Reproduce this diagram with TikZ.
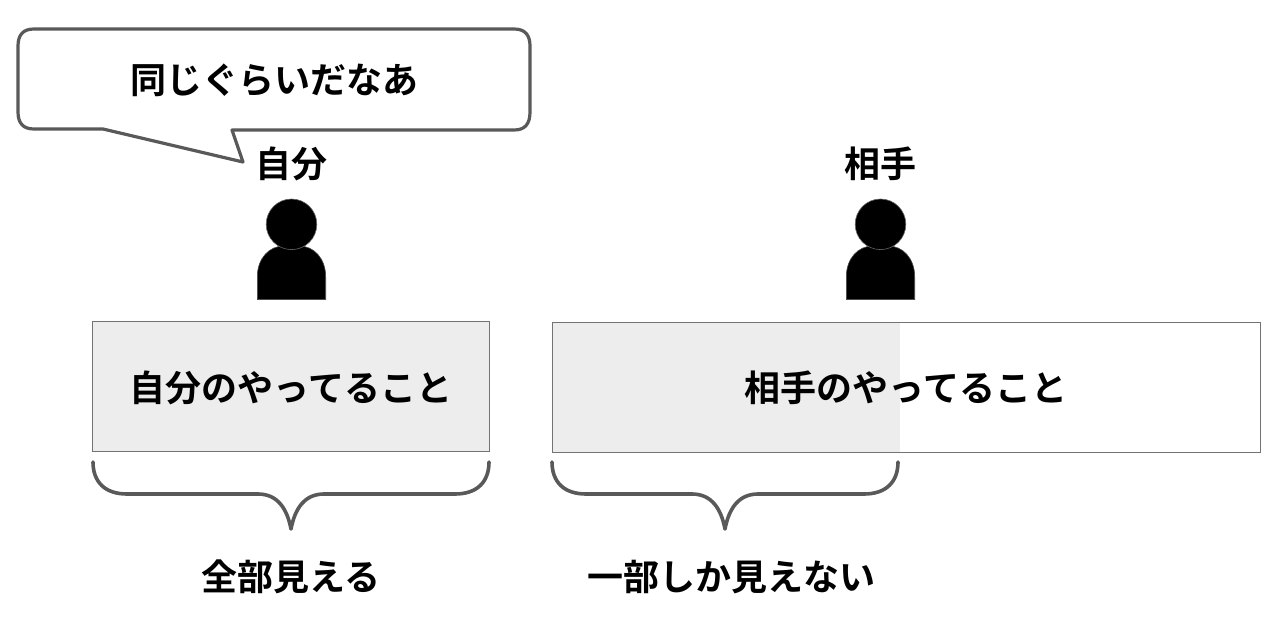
\documentclass[tikz,border=0pt]{standalone}
\usepackage{fontspec}
\setmainfont{Noto Sans CJK JP}[BoldFont={Noto Sans CJK JP Bold}]
\begin{document}
\begin{tikzpicture}[x=1pt,y=-1pt,
  lbl/.style={font=\fontsize{36}{40}\selectfont\bfseries,text=black,inner sep=0pt},
  box/.style={draw=black!55,line width=1.1pt},
  brace/.style={draw=black!65,line width=3.6pt,line cap=round,line join=round}]
\useasboundingbox (0,0) rectangle (1280,626);
\fill[white] (0,0) rectangle (1280,626);
% callout
\draw[draw=black!65,fill=white,line width=3.2pt,line join=round]
  (34,29) -- (514,29) .. controls (525,29) and (530,35) .. (530,46) -- (530,112)
  .. controls (530,124) and (525,130) .. (514,130) -- (232,130) -- (243,162) -- (103,129) -- (34,129)
  .. controls (23,129) and (18,123) .. (18,112) -- (18,46) .. controls (18,35) and (23,29) .. (34,29) -- cycle;
\node[lbl] (say) at (274,80) {同じぐらいだなあ};
\node[lbl] (me) at (291.5,164) {自分};
\node[lbl] (other) at (880.5,164) {相手};
% persons
\foreach \cx in {291.5,880.5}{
  \fill[black,draw=black!70,line width=0.6pt] (\cx-34.2,299.5) -- (\cx-34.2,277) .. controls (\cx-34.2,258) and (\cx-22,246) .. (\cx-8,246)
    -- (\cx+8,246) .. controls (\cx+22,246) and (\cx+34.2,258) .. (\cx+34.2,277) -- (\cx+34.2,299.5) -- cycle;
  \draw[fill=black,draw=black!60,line width=0.6pt] (\cx,224.3) circle (25.3);
}
% boxes
\node[box,fill=black!7,minimum width=397pt,minimum height=130pt,inner sep=0pt,anchor=north west,outer sep=0pt] (mine) at (92.5,321.7) {};
\fill[black!7] (552,322) rectangle (900,452);
\node[box,minimum width=708pt,minimum height=130pt,inner sep=0pt,anchor=north west] (theirs) at (552,321.5) {};
\node[lbl] at (291,387.5) {自分のやってること};
\node[lbl] at (906,387.5) {相手のやってること};
% braces
\draw[brace] (93,462) .. controls (93,482) and (105,494) .. (127,494) -- (258,494)
  .. controls (277,494) and (287,508) .. (291,529) .. controls (295,508) and (305,494) .. (324,494) -- (455,494)
  .. controls (477,494) and (489,482) .. (489,462);
\draw[brace] (552,462) .. controls (552,482) and (564,494) .. (586,494) -- (692,494)
  .. controls (711,494) and (721,508) .. (725,529) .. controls (729,508) and (739,494) .. (758,494) -- (864,494)
  .. controls (886,494) and (898,482) .. (898,462);
\node[lbl] at (291,577) {全部見える};
\node[lbl] at (731,577) {一部しか見えない};
\end{tikzpicture}
\end{document}
